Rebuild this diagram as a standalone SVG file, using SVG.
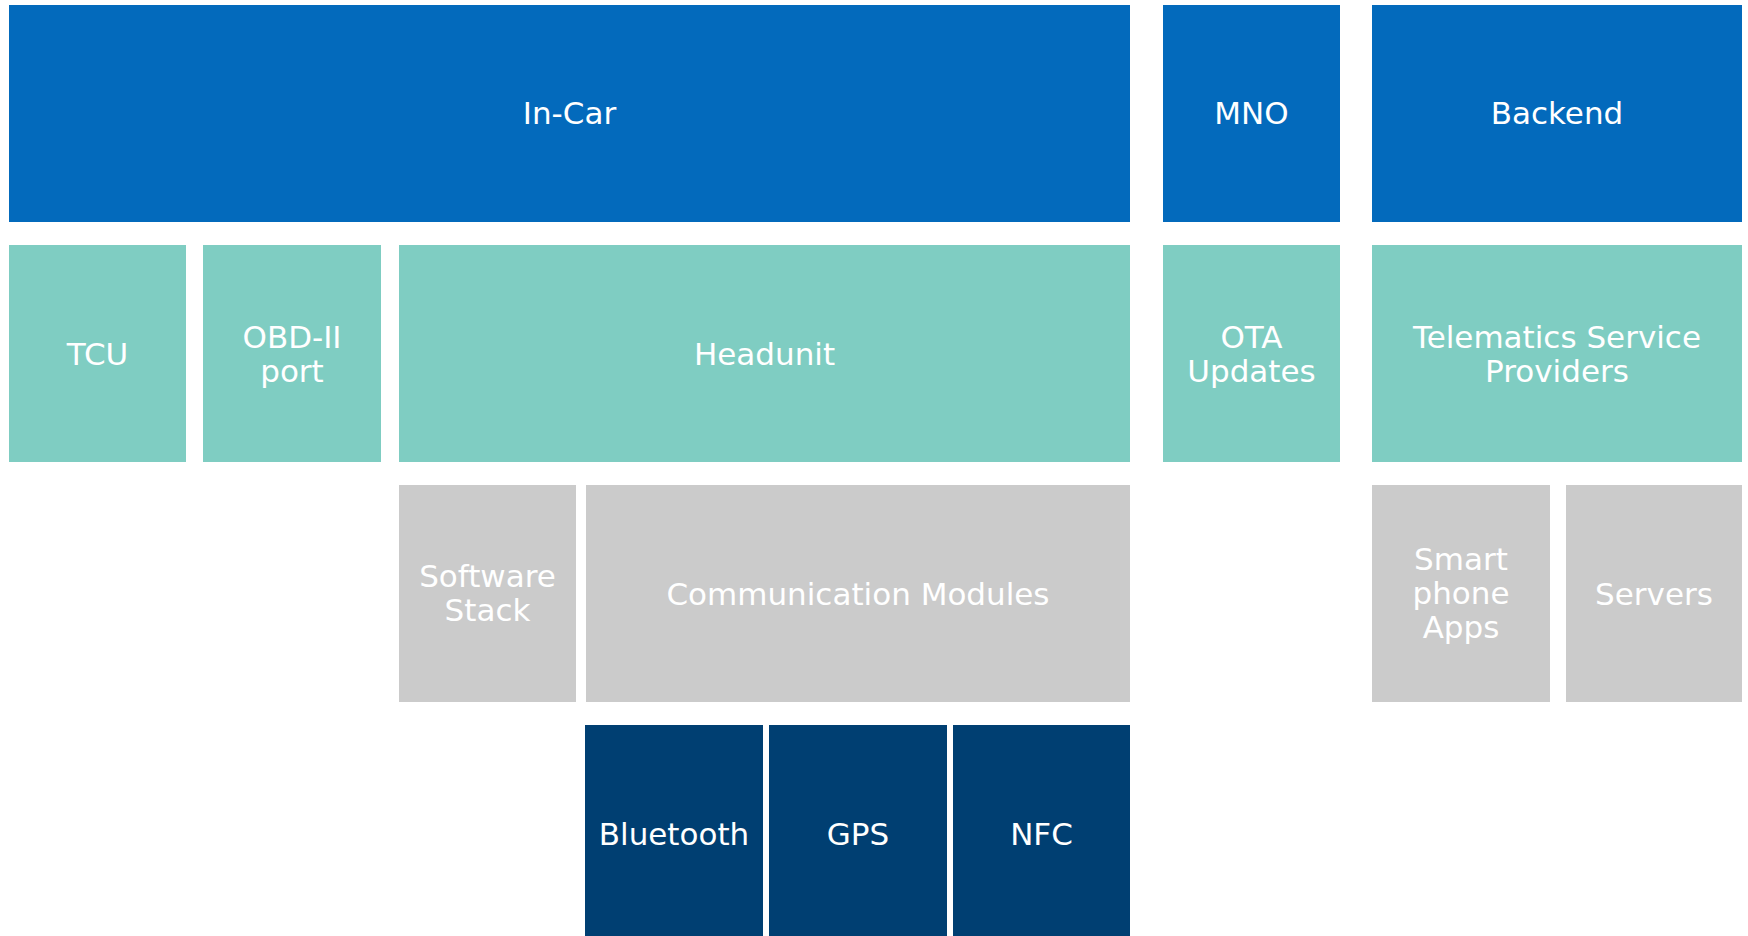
<svg xmlns="http://www.w3.org/2000/svg" width="1748" height="936" viewBox="0 0 1748 936">
  <style>
    .lbl { font-family: "DejaVu Sans", Verdana, sans-serif; font-size: 31px; fill: #ffffff; text-anchor: middle; }
    .top { fill: #036abc; }
    .mid { fill: #7fcdc2; }
    .sub { fill: #cbcbcb; }
    .leaf { fill: #003f72; }
  </style>
  <rect width="1748" height="936" fill="#ffffff"/>

  <!-- Row 1: domains -->
  <g id="in-car">
    <rect class="top" x="9" y="5" width="1121" height="217"/>
    <text class="lbl" x="569.5" y="124">In-Car</text>
  </g>
  <g id="mno">
    <rect class="top" x="1163" y="5" width="177" height="217"/>
    <text class="lbl" x="1251.5" y="124">MNO</text>
  </g>
  <g id="backend">
    <rect class="top" x="1372" y="5" width="370" height="217"/>
    <text class="lbl" x="1557" y="124">Backend</text>
  </g>

  <!-- Row 2: components -->
  <g id="tcu">
    <rect class="mid" x="9" y="245" width="177" height="217"/>
    <text class="lbl" x="97.5" y="365">TCU</text>
  </g>
  <g id="obd-port">
    <rect class="mid" x="203" y="245" width="178" height="217"/>
    <text class="lbl" x="292" y="348">OBD-II</text>
    <text class="lbl" x="292" y="382">port</text>
  </g>
  <g id="headunit">
    <rect class="mid" x="399" y="245" width="731" height="217"/>
    <text class="lbl" x="764.5" y="365">Headunit</text>
  </g>
  <g id="ota-updates">
    <rect class="mid" x="1163" y="245" width="177" height="217"/>
    <text class="lbl" x="1251.5" y="348">OTA</text>
    <text class="lbl" x="1251.5" y="382">Updates</text>
  </g>
  <g id="tsp">
    <rect class="mid" x="1372" y="245" width="370" height="217"/>
    <text class="lbl" x="1557" y="348">Telematics Service</text>
    <text class="lbl" x="1557" y="382">Providers</text>
  </g>

  <!-- Row 3: sub-components -->
  <g id="software-stack">
    <rect class="sub" x="399" y="485" width="177" height="217"/>
    <text class="lbl" x="487.5" y="587">Software</text>
    <text class="lbl" x="487.5" y="621">Stack</text>
  </g>
  <g id="communication-modules">
    <rect class="sub" x="586" y="485" width="544" height="217"/>
    <text class="lbl" x="858" y="605">Communication Modules</text>
  </g>
  <g id="smartphone-apps">
    <rect class="sub" x="1372" y="485" width="178" height="217"/>
    <text class="lbl" x="1461" y="570">Smart</text>
    <text class="lbl" x="1461" y="604">phone</text>
    <text class="lbl" x="1461" y="638">Apps</text>
  </g>
  <g id="servers">
    <rect class="sub" x="1566" y="485" width="176" height="217"/>
    <text class="lbl" x="1654" y="605">Servers</text>
  </g>

  <!-- Row 4: radio modules -->
  <g id="bluetooth">
    <rect class="leaf" x="585" y="725" width="178" height="211"/>
    <text class="lbl" x="674" y="845">Bluetooth</text>
  </g>
  <g id="gps">
    <rect class="leaf" x="769" y="725" width="178" height="211"/>
    <text class="lbl" x="858" y="845">GPS</text>
  </g>
  <g id="nfc">
    <rect class="leaf" x="953" y="725" width="177" height="211"/>
    <text class="lbl" x="1041.5" y="845">NFC</text>
  </g>

  <!-- Layout is a block stack; there are no connectors -->
  <g id="connectors"/>
</svg>
